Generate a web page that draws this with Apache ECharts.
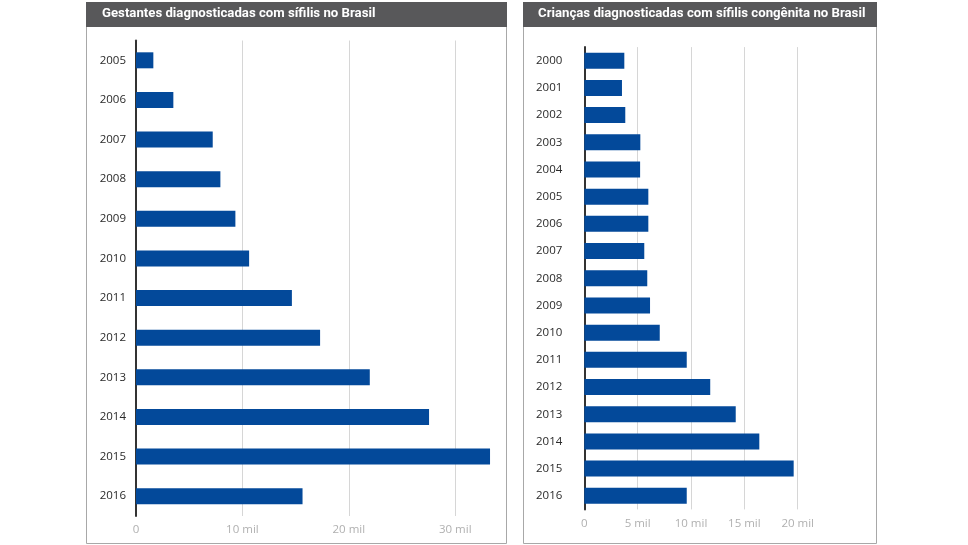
<!DOCTYPE html>
<html>
<head>
<meta charset="utf-8">
<script src="https://cdn.jsdelivr.net/npm/echarts@6/dist/echarts.min.js"></script>
<style>
html,body{margin:0;padding:0;background:#fff;}
#chart{width:968px;height:545px;}
</style>
</head>
<body>
<div id="chart"></div>
<script>
// ---- Data ----
var leftTitle = 'Gestantes diagnosticadas com sífilis no Brasil';
var rightTitle = 'Crianças diagnosticadas com sífilis congênita no Brasil';
var gestantesYears = ['2005','2006','2007','2008','2009','2010','2011','2012','2013','2014','2015','2016'];
var gestantesValues = [1630, 3510, 7210, 7930, 9340, 10630, 14650, 17300, 21970, 27540, 33270, 15650];
var criancasYears = ['2000','2001','2002','2003','2004','2005','2006','2007','2008','2009','2010','2011','2012','2013','2014','2015','2016'];
var criancasValues = [3750, 3530, 3840, 5250, 5230, 6000, 6000, 5620, 5900, 6160, 7070, 9600, 11800, 14190, 16400, 19620, 9600];

var chart = echarts.init(document.getElementById('chart'));

var tickFmt = function (v) { return v === 0 ? '0' : (v / 1000) + ' mil'; };
var labelFont = 'Open Sans';

function xAxisCfg(gridIndex, max, interval) {
  return {
    type: 'value', gridIndex: gridIndex, min: 0, max: max, interval: interval,
    axisLine: { show: false }, axisTick: { show: false },
    axisLabel: { color: '#b0b0b0', fontSize: 11.5, fontFamily: labelFont, margin: 8, showMaxLabel: false, formatter: tickFmt },
    splitLine: { show: true, showMinLine: false, showMaxLine: false, lineStyle: { color: '#d6d6d6', width: 1 } }
  };
}
function yAxisCfg(gridIndex, data, margin) {
  return {
    type: 'category', gridIndex: gridIndex, data: data, inverse: true,
    axisLine: { show: true, lineStyle: { color: '#333', width: 2 } },
    axisTick: { show: false },
    axisLabel: { color: '#2a2a2a', fontSize: 11.5, fontFamily: labelFont, margin: margin }
  };
}

chart.setOption({
  backgroundColor: '#fff',
  animation: false,
  graphic: [
    { type: 'rect', z: 0, shape: { x: 86.5, y: 2.5, width: 420, height: 541 }, style: { fill: '#fff', stroke: '#a8a8a8', lineWidth: 1 } },
    { type: 'rect', z: 0, shape: { x: 523.5, y: 2.5, width: 353, height: 541 }, style: { fill: '#fff', stroke: '#a8a8a8', lineWidth: 1 } },
    { type: 'rect', z: 1, shape: { x: 86, y: 2, width: 421, height: 25 }, style: { fill: '#58585a' } },
    { type: 'rect', z: 1, shape: { x: 523, y: 2, width: 354, height: 25 }, style: { fill: '#58585a' } },
    { type: 'text', z: 2, left: 102, top: 7, style: { text: leftTitle, fill: '#fff', font: 'bold 13.2px Roboto' } },
    { type: 'text', z: 2, left: 538, top: 7, style: { text: rightTitle, fill: '#fff', font: 'bold 13.2px Roboto' } }
  ],
  grid: [
    { left: 136, top: 40.5, width: 361.8, height: 475.5 },
    { left: 584.3, top: 47.1, width: 224.1, height: 462.3 }
  ],
  xAxis: [ xAxisCfg(0, 34000, 10000), xAxisCfg(1, 21000, 5000) ],
  yAxis: [ yAxisCfg(0, gestantesYears, 10), yAxisCfg(1, criancasYears, 22) ],
  series: [
    { type: 'bar', xAxisIndex: 0, yAxisIndex: 0, data: gestantesValues, barWidth: 16, itemStyle: { color: '#03499a' } },
    { type: 'bar', xAxisIndex: 1, yAxisIndex: 1, data: criancasValues, barWidth: 16, itemStyle: { color: '#03499a' } }
  ]
});
</script>
</body>
</html>
